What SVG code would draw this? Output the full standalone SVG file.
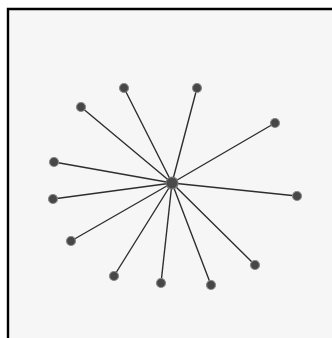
<svg xmlns="http://www.w3.org/2000/svg" width="332" height="338" viewBox="0 0 332 338">
<style>
.edge{stroke:#2e2e2e;stroke-width:1.4;stroke-linecap:round}
.leaf{fill:#474747;stroke:#8a8a8a;stroke-width:1.2}
.hub{fill:#4a4a4a;stroke:#7a7a7a;stroke-width:1.2}
</style>
<rect width="332" height="338" fill="#ffffff"/>
<rect x="8" y="9" width="324" height="329" fill="#f5f6f5"/>
<path d="M8 338V9H332" fill="none" stroke="#000" stroke-width="2.4"/>
<g id="connectors">
<line class="edge" x1="172" y1="183" x2="124" y2="88"/>
<line class="edge" x1="172" y1="183" x2="197" y2="88"/>
<line class="edge" x1="172" y1="183" x2="81" y2="107"/>
<line class="edge" x1="172" y1="183" x2="275" y2="123"/>
<line class="edge" x1="172" y1="183" x2="54" y2="162"/>
<line class="edge" x1="172" y1="183" x2="297" y2="196"/>
<line class="edge" x1="172" y1="183" x2="53" y2="199"/>
<line class="edge" x1="172" y1="183" x2="71" y2="241"/>
<line class="edge" x1="172" y1="183" x2="114" y2="276"/>
<line class="edge" x1="172" y1="183" x2="161" y2="283"/>
<line class="edge" x1="172" y1="183" x2="211" y2="285"/>
<line class="edge" x1="172" y1="183" x2="255" y2="265"/>
</g>
<g id="n1"><circle class="leaf" cx="124" cy="88" r="4.5"/></g>
<g id="n2"><circle class="leaf" cx="197" cy="88" r="4.5"/></g>
<g id="n3"><circle class="leaf" cx="81" cy="107" r="4.5"/></g>
<g id="n4"><circle class="leaf" cx="275" cy="123" r="4.5"/></g>
<g id="n5"><circle class="leaf" cx="54" cy="162" r="4.5"/></g>
<g id="n6"><circle class="leaf" cx="297" cy="196" r="4.5"/></g>
<g id="n7"><circle class="leaf" cx="53" cy="199" r="4.5"/></g>
<g id="n8"><circle class="leaf" cx="71" cy="241" r="4.5"/></g>
<g id="n9"><circle class="leaf" cx="114" cy="276" r="4.5"/></g>
<g id="n10"><circle class="leaf" cx="161" cy="283" r="4.5"/></g>
<g id="n11"><circle class="leaf" cx="211" cy="285" r="4.5"/></g>
<g id="n12"><circle class="leaf" cx="255" cy="265" r="4.5"/></g>
<g id="hub"><circle class="hub" cx="172" cy="183" r="6"/></g>
</svg>
